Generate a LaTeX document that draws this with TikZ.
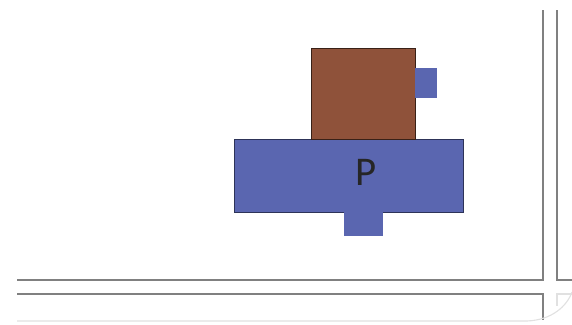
\documentclass[tikz,border=0pt]{standalone}
\usepackage{fontspec}
\setmainfont{Carlito}
\usepackage{tikz}
\usetikzlibrary{positioning}
\definecolor{blk}{RGB}{90,102,176}
\definecolor{brn}{RGB}{143,82,58}
\definecolor{frm}{RGB}{128,128,128}
\definecolor{pale}{RGB}{225,225,225}

\begin{document}
\begin{tikzpicture}[x=0.025cm,y=-0.025cm,
   blue/.style={rectangle,fill=blk,inner sep=0pt},
   mass/.style={rectangle,fill=brn,draw=brn!40!black,line width=0.5pt,inner sep=0pt},
   wall/.style={draw=frm,line width=1pt},
   ghost/.style={draw=pale,line width=0.8pt}]
  \useasboundingbox (0,0) rectangle (572,324);
  % frame lines
  \draw[wall] (17,280) -- (543,280) -- (543,10);
  \draw[wall] (557,10) -- (557,280) -- (572,280);
  \draw[wall] (17,294) -- (543,294) -- (543,320);
  \draw[ghost] (572,294) -- (557,294) -- (557,306);
  \draw[ghost] (17,321) -- (527,321) .. controls (552,320) and (567,306) .. (572,292);
  % blocks
  \node[blue,draw=blk!50!black,line width=0.5pt,minimum width=5.725cm,minimum height=1.825cm] (plate) at (348.5,175.5) {};
  \node[mass,minimum width=2.6cm,minimum height=2.275cm] (box) at (363,93.5) {};
  \node[blue,minimum width=0.55cm,minimum height=0.75cm] (tab) at (426,83) {};
  \node[blue,minimum width=0.975cm,minimum height=0.6cm] (foot) at (363.5,224) {};
  \node[text=black!85,font=\fontsize{29}{32}\selectfont] (plabel) at (366,172) {P};
\end{tikzpicture}
\end{document}
